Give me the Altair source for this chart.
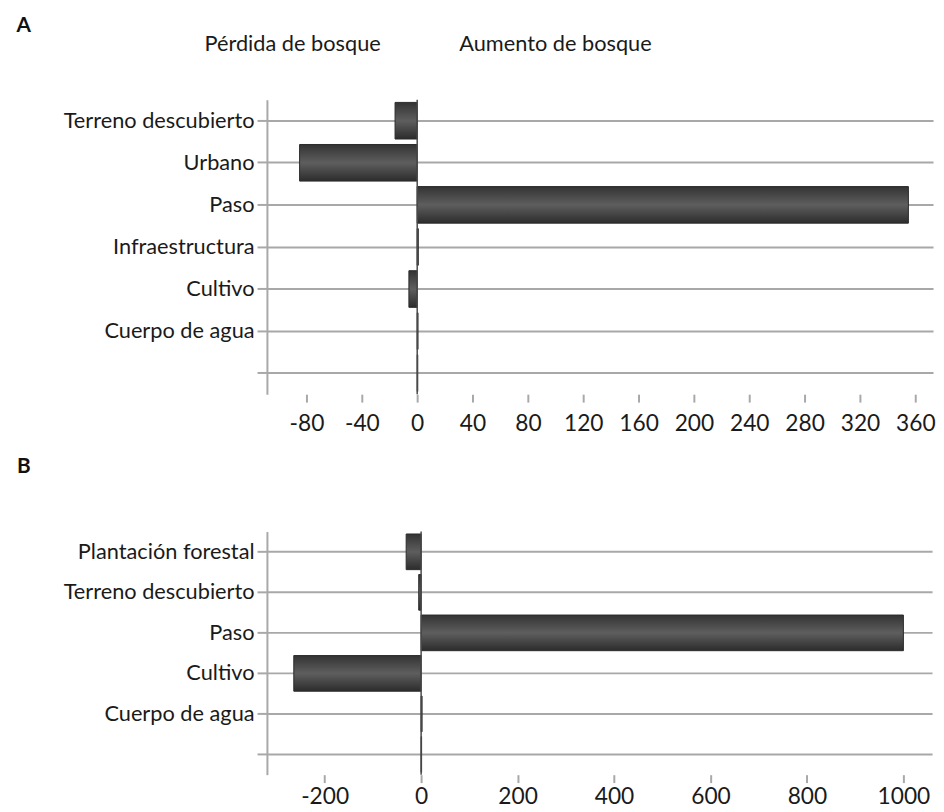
import altair as alt
import pandas as pd

# Panel A data
cats_a = ["Terreno descubierto", "Urbano", "Paso", "Infraestructura", "Cultivo", "Cuerpo de agua", "_"]
vals_a = [-16, -85, 355, 0.8, -6, 0.6, 0.4]
ticks_a = [-80, -40, 0, 40, 80, 120, 160, 200, 240, 280, 320, 360]

# Panel B data
cats_b = ["Plantación forestal", "Terreno descubierto", "Paso", "Cultivo", "Cuerpo de agua", "_"]
vals_b = [-31, -5, 1000, -264, 2, 1]
ticks_b = [-200, 0, 200, 400, 600, 800, 1000]

headers = ["Pérdida de bosque", "Aumento de bosque"]

FONT = "Lato"
GRID = "#a8a8a8"
FS = 22
TFS = 23

bar_fill = alt.Gradient(
    gradient="linear",
    stops=[
        alt.GradientStop(offset=0, color="#333333"),
        alt.GradientStop(offset=0.5, color="#5e5e5e"),
        alt.GradientStop(offset=1, color="#2c2c2c"),
    ],
    x1=0, x2=0, y1=0, y2=1,
)


def panel(cats, vals, ticks, xdom, w, h, pin, letter, lx, ly, lpad, head=None):
    df = pd.DataFrame({"cat": cats, "value": vals})
    yscale = alt.Scale(domain=cats, paddingInner=pin, paddingOuter=pin / 2)
    xscale = alt.Scale(domain=xdom, nice=False, zero=False)
    yaxis = alt.Axis(
        title=None, grid=True, gridColor=GRID, gridWidth=2, bandPosition=0.5,
        domainColor=GRID, domainWidth=2, tickColor=GRID, tickWidth=2, tickSize=10,
        labelFont=FONT, labelFontSize=FS, labelColor="#1a1a1a", labelPadding=3,
        labelLimit=0,
        labelExpr="datum.value == '_' ? '' : datum.value",
    )
    xaxis = alt.Axis(
        title=None, values=ticks, grid=False, domain=False, tickColor=GRID,
        tickWidth=2, tickSize=8, labelFont=FONT, labelFontSize=TFS,
        labelColor="#1a1a1a", labelPadding=lpad, labelFlush=False,
        labelExpr="datum.value < 0 ? '-' + abs(datum.value) : '' + datum.value",
    )
    bars = alt.Chart(df).mark_bar(fill=bar_fill, stroke="#2a2a2a", strokeWidth=1).encode(
        y=alt.Y("cat:N", scale=yscale, axis=yaxis, sort=cats),
        x=alt.X("value:Q", scale=xscale, axis=xaxis),
    )
    zero = alt.Chart(pd.DataFrame({"v": [0]})).mark_rule(color="#4a4a4a", strokeWidth=1.5).encode(
        x=alt.X("v:Q", scale=xscale)
    )
    let = alt.Chart(pd.DataFrame({"t": [letter]})).mark_text(
        font=FONT, fontSize=21, fontWeight="bold", color="#111111", align="center", baseline="middle"
    ).encode(text="t:N", x=alt.value(lx), y=alt.value(ly))
    layers = [bars, zero, let]
    if head:
        for txt, hx in head:
            layers.append(
                alt.Chart(pd.DataFrame({"t": [txt]})).mark_text(
                    font=FONT, fontSize=FS, color="#1a1a1a", align="center", baseline="middle"
                ).encode(text="t:N", x=alt.value(hx), y=alt.value(-56))
            )
    return alt.layer(*layers).properties(width=w, height=h)


pa = panel(cats_a, vals_a, ticks_a, [-108.6, 372.8], 674, 298, 0.13, "A", -246, -74, 11,
           head=[(headers[0], 26), (headers[1], 292)])
pb = panel(cats_b, vals_b, ticks_b, [-319.7, 1059.4], 673, 246, 0.12, "B", -246, -65.5, 3)

chart = alt.concat(pa, pb, columns=1, align="none", spacing=20).properties(
    padding={"left": 8, "top": 3, "right": 0, "bottom": 0}
).configure_view(stroke=None)

chart.save("out.html", embed_options={"renderer": "svg", "actions": False})
